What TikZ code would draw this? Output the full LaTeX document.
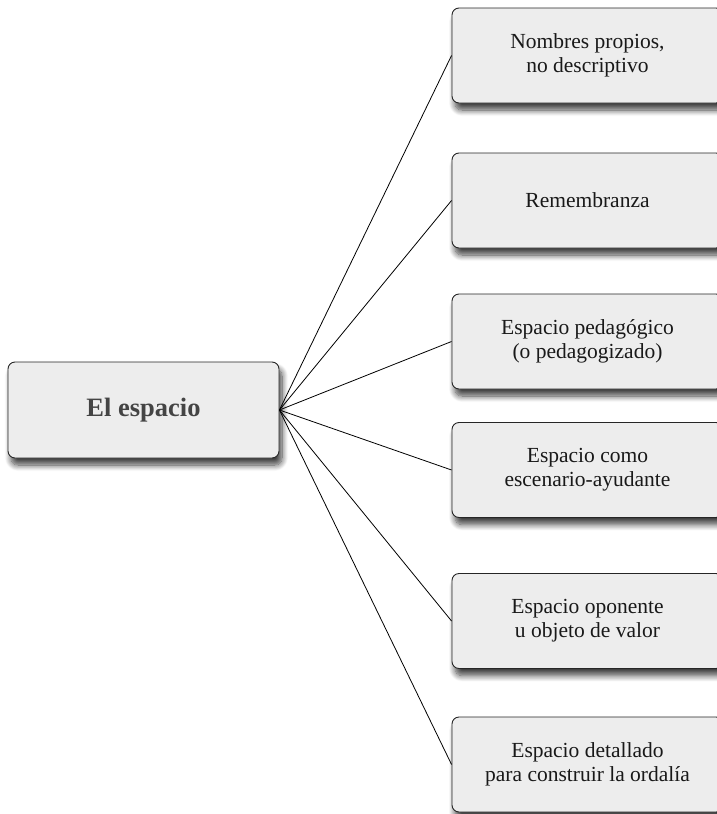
\documentclass[tikz,border=0pt]{standalone}
\usepackage{fontspec}
\setmainfont{Liberation Serif}
\usetikzlibrary{shadows.blur}
\definecolor{boxfill}{HTML}{EDEDED}
\definecolor{maintext}{HTML}{444444}
\tikzset{
  itembox/.style={draw=black!85, line width=0.9pt, fill=boxfill, rounded corners=7pt,
    minimum width=271pt, minimum height=95pt, align=center, inner sep=0pt,
    font=\fontsize{21.5}{24}\selectfont, text=black!90,
    blur shadow={shadow xshift=3pt, shadow yshift=-7pt, shadow blur radius=6pt, shadow blur steps=10, shadow opacity=75}},
  mainbox/.style={itembox, minimum width=271pt, minimum height=96pt,
    font=\fontsize{26.5}{30}\selectfont\bfseries, text=maintext},
  link/.style={draw=black, line width=0.8pt}
}
\begin{document}
\begin{tikzpicture}[x=1pt,y=-1pt]
\useasboundingbox (0,0) rectangle (716,814);
\node[mainbox] (main) at (143.5,410) {El espacio};
\node[itembox] (b1) at (587.5,55.5) {Nombres propios,\\no descriptivo};
\node[itembox] (b2) at (587.5,200.5) {Remembranza};
\node[itembox] (b3) at (587.5,341.5) {Espacio pedagógico\\(o pedagogizado)};
\node[itembox] (b4) at (587.5,470) {Espacio como\\escenario-ayudante};
\node[itembox] (b5) at (587.5,621) {Espacio oponente\\u objeto de valor};
\node[itembox] (b6) at (587.5,764.5) {Espacio detallado\\para construir la ordalía};
\foreach \b in {b1,b2,b3,b4,b5,b6}
  \draw[link] (main.east) -- (\b.west);
\end{tikzpicture}
\end{document}
